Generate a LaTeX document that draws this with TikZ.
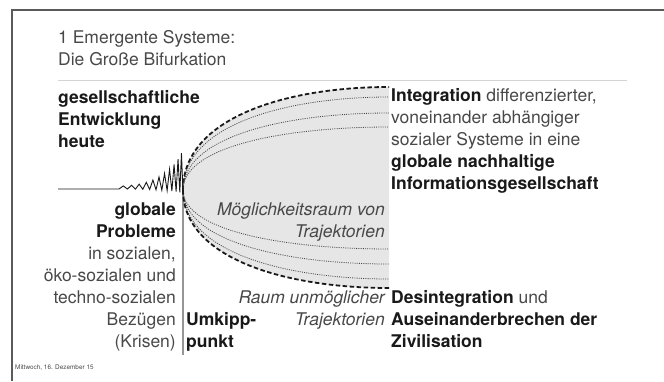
\documentclass[tikz,border=0pt]{standalone}
\usepackage{fontspec}
\setmainfont{TeX Gyre Heros}
\usetikzlibrary{positioning}
\definecolor{bifFrame}{RGB}{90,90,90}
\definecolor{bifRule}{RGB}{212,212,212}
\definecolor{bifDark}{RGB}{25,25,25}
\definecolor{bifText}{RGB}{72,72,72}
\definecolor{bifFill}{RGB}{230,230,230}
\definecolor{bifAxis}{RGB}{150,150,150}
\newcommand{\bifsize}{\fontsize{17.5}{22}\selectfont}
\newcommand{\bifb}[1]{{\bfseries\color{bifDark}#1}}

\begin{document}
\begin{tikzpicture}[x=1pt, y=-1pt,
  txt/.style={inner sep=0pt, text=bifText, font=\bifsize},
  lft/.style={txt, align=left, anchor=base west},
  rgt/.style={txt, align=right, anchor=base east},
  bold/.style={font=\bifsize\bfseries, text=bifDark},
  slant/.style={font=\bifsize\itshape, text=bifText},
  outer/.style={bifDark, line width=1.8pt, dash pattern=on 4.5pt off 2.5pt},
  inner/.style={bifDark!80, line width=0.8pt, dash pattern=on 1pt off 1.2pt}
]
  \useasboundingbox (0,0) rectangle (664,381);
  % frame and title (nodes sit on the baseline of their last line)
  \draw[bifFrame, line width=1.6pt] (12,381) -- (12,10) -- (664,10);
  \node[lft] (title) at (58,65) {1 Emergente Systeme:\\Die Große Bifurkation};
  \draw[bifRule, line width=1pt] (58,80) -- (627,80);

  % bifurcation fan
  \coordinate (vtx) at (183,190);
  \fill[bifFill] (vtx) .. controls (183,118) and (286,87) .. (389,87)
    -- (389,288) .. controls (286,288) and (183,259) .. (vtx) -- cycle;
  \draw[bifAxis, line width=1.4pt] (vtx) -- (183,355);
  \foreach \ye/\sty in {87/outer,97/inner,113/inner,127/inner,
                        249/inner,264/inner,279/inner,288/outer}
    \draw[\sty] (vtx) .. controls (183,{190+0.7*(\ye-190)})
      and (286,\ye) .. (389,\ye);

  % development up to today
  \draw[bifDark, line width=0.9pt] (58,189) -- (119,189)
    -- plot[domain=0:1, samples=23]
       ({119+64*(1.5*\x-0.5*\x*\x)},
        {189+4*\x*\x*(1+cos(\x*3960))/2-(3+36*\x*\x)*(1-cos(\x*3960))/2});

  % texts
  \node[lft, bold] (today) at (58,147) {gesellschaftliche\\Entwicklung\\heute};
  \node[rgt] (problems) at (176,347) {\bifb{globale}\\\bifb{Probleme}\\in sozialen,\\%
    öko-sozialen und\\techno-sozialen\\Bezügen\\(Krisen)};
  \node[lft, bold] (tipping) at (186,347) {Umkipp-\\punkt};
  \node[rgt, slant] (possible) at (385,237) {Möglichkeitsraum von\\Trajektorien};
  \node[rgt, slant] (impossible) at (385,325) {Raum unmöglicher\\Trajektorien};
  \node[lft] (integration) at (391,189) {\bifb{Integration} differenzierter,\\%
    voneinander abhängiger\\sozialer Systeme in eine\\%
    \bifb{globale nachhaltige}\\\bifb{Informationsgesellschaft}};
  \node[lft] (desintegration) at (391,347) {\bifb{Desintegration} und\\%
    \bifb{Auseinanderbrechen der}\\\bifb{Zivilisation}};
  \node[anchor=base west, inner sep=0pt, text=bifText,
        font=\fontsize{6.4}{8}\selectfont] (date) at (15,369)
    {Mittwoch, 16. Dezember 15};
\end{tikzpicture}
\end{document}
